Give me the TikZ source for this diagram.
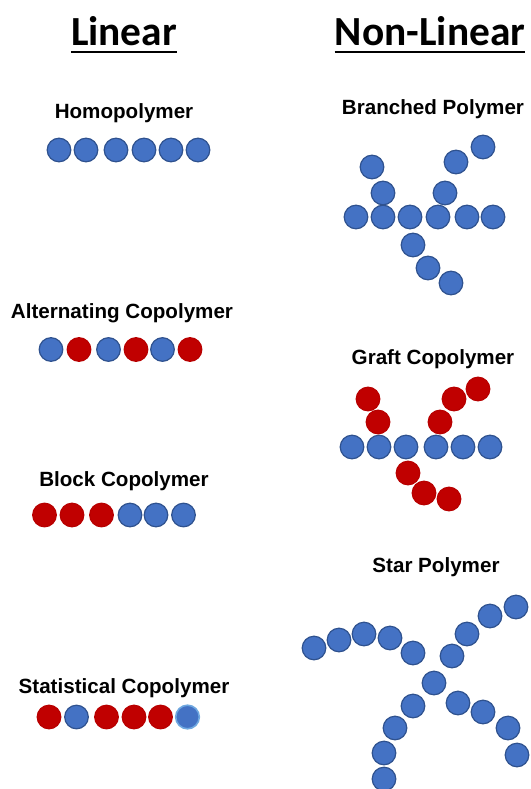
\documentclass[tikz,border=0pt]{standalone}
\usepackage{fontspec}
\setmainfont{Liberation Sans}
\newfontfamily\headfont{Carlito}
\begin{document}
\begin{tikzpicture}[x=1pt,y=-1pt,
  bead/.style={circle,minimum size=23.6pt,inner sep=0pt,line width=1.2pt},
  bb/.style={bead,fill=blueF,draw=blueD},
  rb/.style={bead,fill=redF,draw=redD},
  lb/.style={bead,fill=blueF,draw=blueL,line width=1.6pt},
  label/.style={anchor=base,inner sep=0pt,font=\fontsize{20.6}{24}\selectfont\bfseries},
  heading/.style={anchor=base,inner sep=0pt,font=\headfont\fontsize{41.4}{48}\selectfont\bfseries},
  rule/.style={line width=2.4pt,black}]
\definecolor{blueF}{HTML}{4472C4}
\definecolor{blueD}{HTML}{2F528F}
\definecolor{blueL}{HTML}{6FA8E0}
\definecolor{redF}{HTML}{C00000}
\definecolor{redD}{HTML}{B80000}
\fill[white] (0,0) rectangle (530,789);
\useasboundingbox (0,0) rectangle (530,789);

% column headings
\node[heading] (lin) at (124,46) {Linear};
\node[heading] (nlin) at (430,46) {Non-Linear};
\draw[rule] ([yshift=-6pt]lin.base west) -- ([yshift=-6pt]lin.base east);
\draw[rule] ([yshift=-6pt]nlin.base west) -- ([yshift=-6pt]nlin.base east);

% ---------- linear column ----------
\node[label] (homo) at (124,118.5) {Homopolymer};
\foreach \x [count=\i] in {59,86,116,144,171,198}
  \node[bb] (h\i) at (\x,150) {};

\node[label] (alt) at (122,318) {Alternating Copolymer};
\node[bb] (a1) at (51,349.5) {};
\node[rb] (a2) at (79,349.5) {};
\node[bb] (a3) at (108.5,349.5) {};
\node[rb] (a4) at (136,349.5) {};
\node[bb] (a5) at (162.5,349.5) {};
\node[rb] (a6) at (190,349.5) {};

\node[label] (blk) at (124,486) {Block Copolymer};
\node[rb] (b1) at (44.5,515) {};
\node[rb] (b2) at (72,515) {};
\node[rb] (b3) at (101.5,515) {};
\node[bb] (b4) at (130,515) {};
\node[bb] (b5) at (156,515) {};
\node[bb] (b6) at (183.5,515) {};

\node[label] (stat) at (124,693) {Statistical Copolymer};
\node[rb] (s1) at (49,717) {};
\node[bb] (s2) at (76.5,717) {};
\node[rb] (s3) at (106.5,717) {};
\node[rb] (s4) at (134,717) {};
\node[rb] (s5) at (160.5,717) {};
\node[lb] (s6) at (187.5,717) {};

% ---------- non-linear column ----------
\node[label] (br) at (433,115) {Branched Polymer};
\foreach \x [count=\i] in {356,383,410,438,467,493}
  \node[bb] (m\i) at (\x,217) {};
\node[bb] (p1) at (383,193) {};
\node[bb] (p2) at (372,167) {};
\node[bb] (q1) at (445,193) {};
\node[bb] (q2) at (456,162) {};
\node[bb] (q3) at (483,147) {};
\node[bb] (d1) at (413,245) {};
\node[bb] (d2) at (428,268) {};
\node[bb] (d3) at (451,283) {};

\node[label] (gr) at (433,364) {Graft Copolymer};
\foreach \x [count=\i] in {352,379,406,436,463,490}
  \node[bb] (g\i) at (\x,447) {};
\node[rb] (gu1) at (378,422) {};
\node[rb] (gu2) at (368,399) {};
\node[rb] (gv1) at (440,422) {};
\node[rb] (gv2) at (454,399) {};
\node[rb] (gv3) at (478,389) {};
\node[rb] (gd1) at (408,473) {};
\node[rb] (gd2) at (424,493) {};
\node[rb] (gd3) at (449,499) {};

\node[label] (st) at (436,572) {Star Polymer};
\node[bb] (c) at (434,683) {};
% upper left arm
\node[bb] (ul1) at (413,653) {};
\node[bb] (ul2) at (390,638) {};
\node[bb] (ul3) at (364,634) {};
\node[bb] (ul4) at (339,640) {};
\node[bb] (ul5) at (314,648) {};
% upper right arm
\node[bb] (ur1) at (452,656) {};
\node[bb] (ur2) at (467,634) {};
\node[bb] (ur3) at (490,616) {};
\node[bb] (ur4) at (516,607) {};
% lower left arm
\node[bb] (ll1) at (413,706) {};
\node[bb] (ll2) at (395,728) {};
\node[bb] (ll3) at (384,753) {};
\node[bb] (ll4) at (384,779) {};
% lower right arm
\node[bb] (lr1) at (458,703) {};
\node[bb] (lr2) at (483,712) {};
\node[bb] (lr3) at (508,728) {};
\node[bb] (lr4) at (517,755) {};
\end{tikzpicture}
\end{document}
